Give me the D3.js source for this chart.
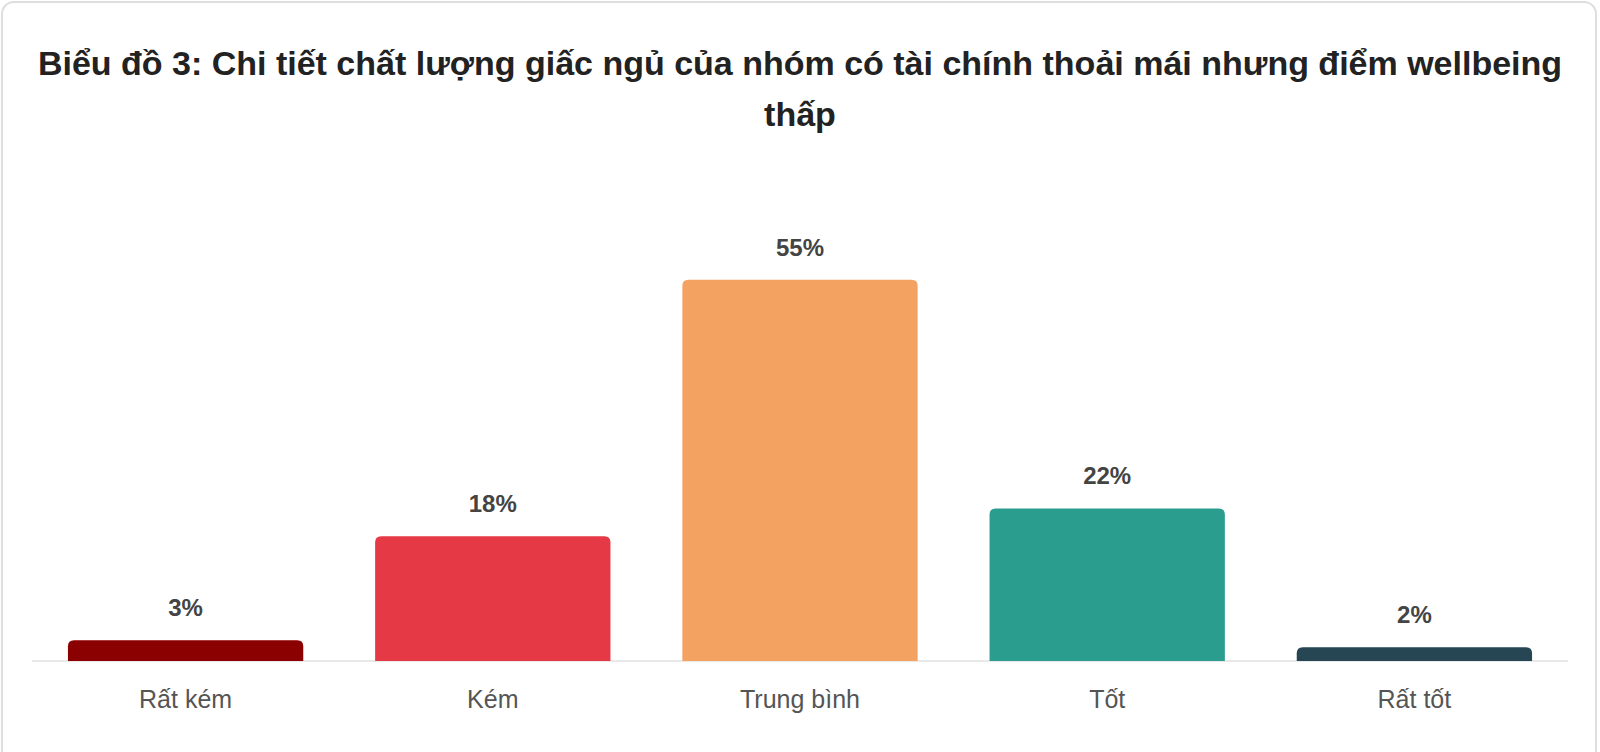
<!doctype html>
<html>
<head>
  <meta charset="utf-8">
  <script src="https://cdnjs.cloudflare.com/ajax/libs/d3/7.8.5/d3.min.js"></script>
  <style>
    html, body { margin: 0; padding: 0; background: #fff; }
    svg { display: block; font-family: "Liberation Sans", Arial, sans-serif; }
  </style>
</head>
<body>
  <svg id="chart" width="1600" height="752"></svg>
  <script>
    var titleLines = ["Biểu đồ 3: Chi tiết chất lượng giấc ngủ của nhóm có tài chính thoải mái nhưng điểm wellbeing", "thấp"];
    var categories = ["Rất kém", "Kém", "Trung bình", "Tốt", "Rất tốt"];
    var values = [3, 18, 55, 22, 2];
    var colors = ["#8b0000", "#e63946", "#f4a261", "#2a9d8f", "#264653"];

    var svg = d3.select("#chart");

    // card
    svg.append("rect")
      .attr("x", 2).attr("y", 2)
      .attr("width", 1594).attr("height", 770)
      .attr("rx", 12)
      .style("fill", "#fff")
      .style("stroke", "#dedede")
      .style("stroke-width", 2);

    // title
    svg.append("text")
      .attr("text-anchor", "middle")
      .style("font-size", "34px")
      .style("font-weight", "bold")
      .style("fill", "#222")
      .selectAll("tspan")
      .data(titleLines)
      .enter()
      .append("tspan")
      .attr("x", 800)
      .attr("y", (d, i) => 75 + i * 51)
      .text(d => d);

    var x = d3.scaleBand()
      .domain(categories)
      .range([32, 1568])
      .paddingInner(0.234)
      .paddingOuter(0.117);

    var y = d3.scaleLinear()
      .domain([0, 60])
      .range([661, 245]);

    // baseline
    svg.append("line")
      .attr("x1", 32).attr("x2", 1568)
      .attr("y1", y(0)).attr("y2", y(0))
      .style("stroke", "#e2e2e2")
      .style("stroke-width", 1.5);

    var r = 6;
    function barPath(d, i) {
      var x0 = x(categories[i]), w = x.bandwidth();
      var top = y(d), bottom = y(0);
      return "M" + x0 + "," + bottom +
        "V" + (top + r) +
        "Q" + x0 + "," + top + " " + (x0 + r) + "," + top +
        "H" + (x0 + w - r) +
        "Q" + (x0 + w) + "," + top + " " + (x0 + w) + "," + (top + r) +
        "V" + bottom + "Z";
    }

    svg.selectAll("path.bar")
      .data(values)
      .enter()
      .append("path")
      .attr("class", "bar")
      .attr("d", barPath)
      .style("fill", (d, i) => colors[i]);

    svg.selectAll("text.val")
      .data(values)
      .enter()
      .append("text")
      .attr("class", "val")
      .attr("x", (d, i) => x(categories[i]) + x.bandwidth() / 2)
      .attr("y", d => y(d) - 24)
      .attr("text-anchor", "middle")
      .style("font-size", "24px")
      .style("font-weight", "bold")
      .style("fill", "#444")
      .text(d => d + "%");

    svg.selectAll("text.cat")
      .data(categories)
      .enter()
      .append("text")
      .attr("class", "cat")
      .attr("x", d => x(d) + x.bandwidth() / 2)
      .attr("y", 707.5)
      .attr("text-anchor", "middle")
      .style("font-size", "25px")
      .style("fill", "#555")
      .text(d => d);
  </script>
</body>
</html>
